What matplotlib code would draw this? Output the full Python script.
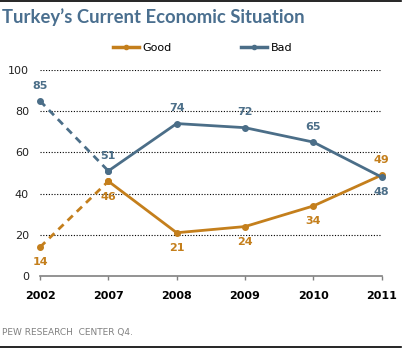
import matplotlib.pyplot as plt
from matplotlib.lines import Line2D

# --- Data ---
years = ['2002', '2007', '2008', '2009', '2010', '2011']
good = [14, 46, 21, 24, 34, 49]
bad = [85, 51, 74, 72, 65, 48]
# label placement: +1 above the point, -1 below
good_pos = [-1, -1, -1, -1, -1, 1]
bad_pos = [1, 1, 1, 1, 1, -1]

GOOD_C = '#c47f1c'
BAD_C = '#4b6e88'
TITLE_C = '#4a6f8f'

fig = plt.figure(figsize=(4.05, 3.49), dpi=100)
ax = fig.add_axes([40 / 405, 73 / 349, 341.7 / 405, 206 / 349])

x = list(range(len(years)))

for vals, col in [(good, GOOD_C), (bad, BAD_C)]:
    # 2002 -> 2007 is dashed (different survey gap), the rest solid
    ax.plot(x[:2], vals[:2], color=col, lw=2, ls=(0, (2.6, 2)),
            marker='o', ms=4, clip_on=False, zorder=3)
    ax.plot(x[1:], vals[1:], color=col, lw=2, marker='o', ms=4,
            clip_on=False, zorder=3)

for vals, pos, col in [(good, good_pos, GOOD_C), (bad, bad_pos, BAD_C)]:
    for xi, v, p in zip(x, vals, pos):
        ax.annotate(str(v), (xi, v), xytext=(0, 11 * p), textcoords='offset points',
                    ha='center', va='center', fontsize=8, fontweight='bold',
                    color=col, zorder=4)

ax.set_xlim(0, 5)
ax.set_ylim(0, 100)
ax.set_xticks(x)
ax.set_xticklabels(years, fontsize=8, fontweight='bold', color='black')
ax.set_yticks([0, 20, 40, 60, 80, 100])
ax.tick_params(axis='x', length=3, color='#808080', width=1, pad=8)
ax.tick_params(axis='y', length=0, pad=8, labelsize=8, labelcolor='#222222')

for y in [20, 40, 60, 80, 100]:
    ax.axhline(y, color='black', lw=0.8, ls=(0, (1, 1.5)), zorder=1)

for s in ['top', 'right', 'left']:
    ax.spines[s].set_visible(False)
ax.spines['bottom'].set_color('#808080')
ax.spines['bottom'].set_linewidth(1.2)

# legend
handles = [Line2D([], [], color=GOOD_C, lw=2.5, marker='o', ms=3),
           Line2D([], [], color=BAD_C, lw=2.5, marker='o', ms=3)]
fig.legend(handles, ['Good', 'Bad'], loc='center', bbox_to_anchor=(0.5, 0.863),
           ncol=2, frameon=False, fontsize=8, handlelength=2.4,
           handletextpad=0.3, columnspacing=6.2, numpoints=1)

fig.text(0.005, 0.952, 'Turkey\u2019s Current Economic Situation', fontsize=13.3,
         fontweight='bold', color=TITLE_C, family='Lato', va='center', ha='left')
fig.text(0.005, 0.046, 'PEW RESEARCH  CENTER Q4.', fontsize=6.5, color='#808080',
         va='center', ha='left')

fig.add_artist(Line2D([0, 0.99], [0.997, 0.997], color='black', lw=1.2,
                      transform=fig.transFigure))
fig.add_artist(Line2D([0, 0.99], [0.007, 0.007], color='black', lw=1.2,
                      transform=fig.transFigure))

fig.savefig('out.png', dpi=100)
